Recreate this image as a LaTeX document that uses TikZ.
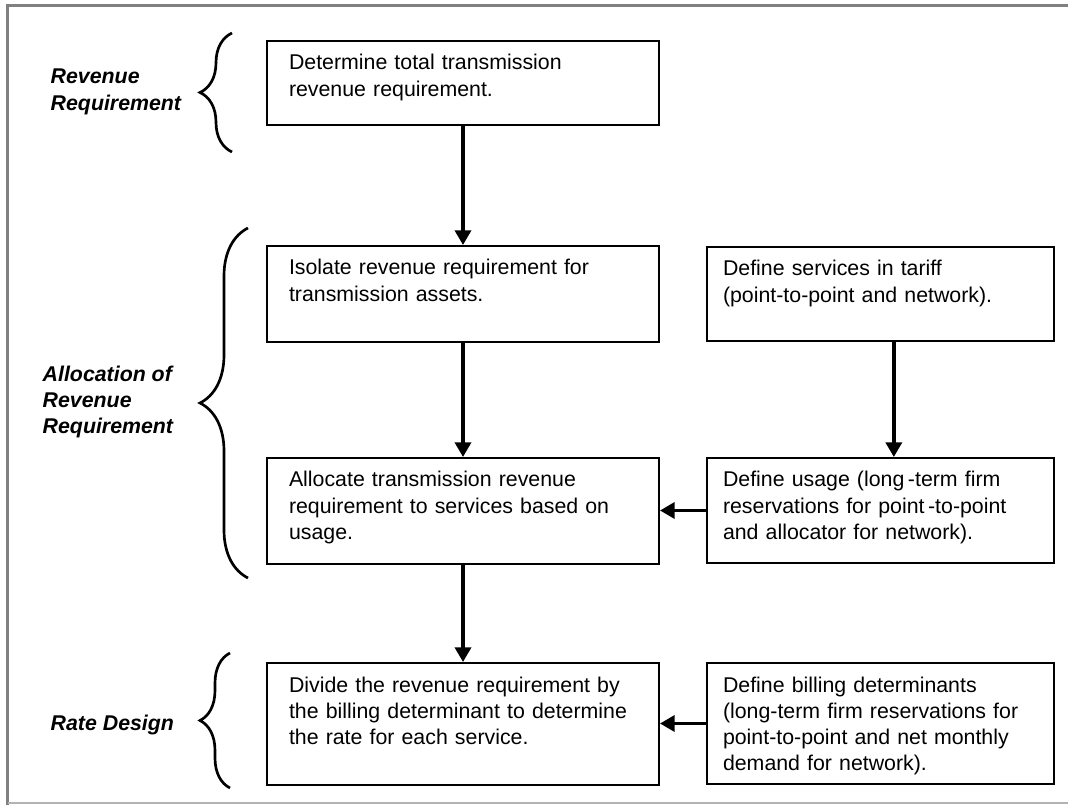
\documentclass[tikz,border=0pt]{standalone}
\usepackage{fontspec}
\setmainfont{Liberation Sans}
\usetikzlibrary{arrows.meta,decorations.pathreplacing,calc}

\begin{document}
\begin{tikzpicture}[x=0.75pt, y=-0.75pt, >={Triangle[length=11pt, width=12pt]},
    stepbox/.style={draw, line width=1.5pt, anchor=north west, align=left, inner ysep=0pt,
      text height=21.75pt, font=\fontsize{16pt}{19.7pt}\selectfont},
    lbox/.style={stepbox, text width=261pt, inner xsep=16.5pt},
    rbox/.style={stepbox, text width=236.25pt, inner xsep=12pt},
    phase/.style={anchor=west, align=left, font=\fontsize{16pt}{19.7pt}\selectfont\bfseries\itshape},
    flow/.style={->, line width=2.6pt},
    curly/.style={decorate, decoration={brace, amplitude=#1}, line width=2pt}]
  \useasboundingbox (0,0) rectangle (1068,805);
  % frame
  \draw[line width=2.25pt, gray] (7.5,805) -- (7.5,6) -- (1068,6);
  \draw[line width=1.5pt, black!30] (7.5,803) -- (1068,803);
  % left column
  \node[lbox, text depth=41.25pt] (req) at (266,40) {Determine total transmission\\revenue requirement.};
  \node[lbox, text depth=50.25pt] (iso) at (266,245) {Isolate revenue requirement for\\transmission assets.};
  \node[lbox, text depth=57.75pt] (alloc) at (266,457) {Allocate transmission revenue\\requirement to services based on\\usage.};
  \node[lbox, text depth=69.75pt] (divide) at (266,662) {Divide the revenue requirement by\\the billing determinant to determine\\the rate for each service.};
  % right column
  \node[rbox, text depth=48.75pt] (services) at (706,246) {Define services in tariff\\(point-to-point and network).};
  \node[rbox, text depth=57pt] (usage) at (706,457) {Define usage (long\,-term firm\\reservations for point\,-to-point\\and allocator for network).};
  \node[rbox, text depth=69pt] (billing) at (706,662) {Define billing determinants\\(long-term firm reservations for\\point-to-point and net monthly\\demand for network).};
  % arrows
  \draw[flow] (req) -- (iso);
  \draw[flow] (iso) -- (alloc);
  \draw[flow] (alloc) -- (divide);
  \draw[flow] ([xshift=10pt]services.south) -- ([xshift=10pt]usage.north);
  \draw[flow] (usage.west) -- (usage.west -| alloc.east);
  \draw[flow] (billing.west) -- (billing.west -| divide.east);
  % phases
  \node[phase] (phreq) at (46,92) {Revenue\\Requirement};
  \node[phase] (phalloc) at (38,402) {Allocation of\\Revenue\\Requirement};
  \node[phase] (phrate) at (46,725) {Rate Design};
  \draw[curly=24pt] (232,152) -- (232,33);
  \draw[curly=36pt] (248,578) -- (248,228);
  \draw[curly=22.5pt] (230,788) -- (230,653);
\end{tikzpicture}
\end{document}
